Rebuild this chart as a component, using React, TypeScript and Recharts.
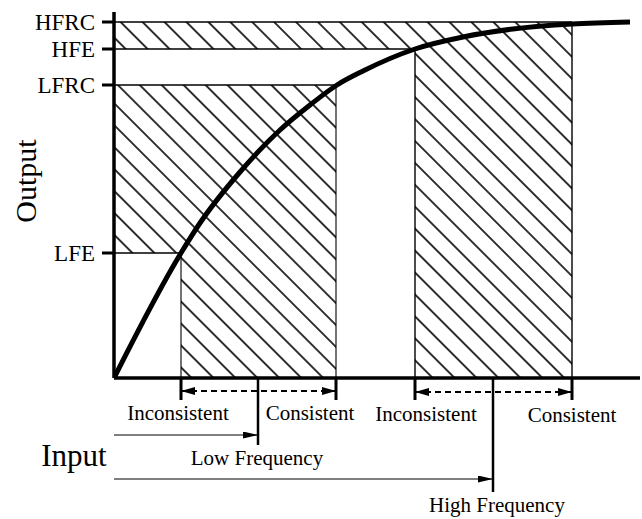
import React from 'react';
import { ComposedChart, Line, XAxis, YAxis, ReferenceArea, ReferenceLine, ReferenceDot } from 'recharts';

// response curve (input -> output)
const curveInput = [0, 67, 86, 126, 166, 196, 223, 249, 301, 349, 399, 458, 516];
const curveOutput = [0, 125, 155, 206, 248, 273, 293, 307, 329, 341, 349, 354, 356];

// output levels on the y axis
const levelNames = ['LFE', 'LFRC', 'HFE', 'HFRC'];
const levelValues = [125, 293, 329, 356];

// input bands: [inconsistent start, consistent end]
const lowBand = [67, 222];
const highBand = [301, 458];
const bandNames = ['Inconsistent', 'Consistent'];

const freqNames = ['Low Frequency', 'High Frequency'];
const freqValues = [144, 379];

const FONT = "'Liberation Serif', 'Times New Roman', serif";

const seg = (key: string, x1: number, y1: number, x2: number, y2: number, w: number, extra: any = {}) => (
  <ReferenceLine
    key={key}
    segment={[{ x: x1, y: y1 }, { x: x2, y: y2 }]}
    stroke="#000"
    strokeWidth={w}
    ifOverflow="visible"
    {...extra}
  />
);

const txt = (key: string, x: number, y: number, value: string, size: number, angle = 0) => (
  <ReferenceDot
    key={key}
    x={x}
    y={y}
    r={0}
    fill="none"
    stroke="none"
    ifOverflow="visible"
    label={{ value, position: 'center', fill: '#000', fontSize: size, fontFamily: FONT, angle }}
  />
);

const dashedArrow = (p: any) => (
  <line x1={p.x1} y1={p.y1} x2={p.x2} y2={p.y2} stroke="#000" strokeWidth={1.8} strokeDasharray="6 4"
    markerStart="url(#ahead)" markerEnd="url(#ahead)" />
);
const thinArrow = (p: any) => (
  <line x1={p.x1} y1={p.y1} x2={p.x2} y2={p.y2} stroke="#000" strokeWidth={1.1} markerEnd="url(#ahead2)" />
);

export default function App() {
  const data = curveInput.map((x, i) => ({ input: x, output: curveOutput[i] }));
  const [LFE, LFRC, HFE, HFRC] = levelValues;

  return (
    <div style={{ position: 'absolute', left: 0, top: 0, background: '#fff' }}>
      <ComposedChart width={642} height={519} data={data} margin={{ top: 12, right: 2, bottom: 0, left: 0 }}>
        <defs>
          <pattern id="hatch" width="15.5" height="15.5" patternUnits="userSpaceOnUse" patternTransform="rotate(-45)">
            <line x1="7.75" y1="-2" x2="7.75" y2="18" stroke="#000" strokeWidth="1.6" />
          </pattern>
          <marker id="ahead" viewBox="0 0 14 8" refX="14" refY="4" markerWidth="14" markerHeight="8"
            markerUnits="userSpaceOnUse" orient="auto-start-reverse">
            <path d="M0,0 L14,4 L0,8 z" fill="#000" />
          </marker>
          <marker id="ahead2" viewBox="0 0 15 7" refX="15" refY="3.5" markerWidth="15" markerHeight="7"
            markerUnits="userSpaceOnUse" orient="auto">
            <path d="M0,0 L15,3.5 L0,7 z" fill="#000" />
          </marker>
        </defs>
        <XAxis dataKey="input" type="number" domain={[0, 526]} hide allowDataOverflow />
        <YAxis
          type="number"
          width={114}
          domain={[-141, 366]}
          allowDataOverflow
          ticks={levelValues}
          interval={0}
          axisLine={false}
          tickSize={12}
          tickMargin={7}
          tickLine={{ stroke: '#000', strokeWidth: 3 }}
          tick={{ fill: '#000', fontSize: 23, fontFamily: FONT }}
          tickFormatter={(v: number) => levelNames[levelValues.indexOf(v)]}
        />

        {/* hatched regions */}
        <ReferenceArea x1={0} x2={lowBand[0]} y1={LFE} y2={LFRC} fill="url(#hatch)" fillOpacity={1} stroke="none" />
        <ReferenceArea x1={lowBand[0]} x2={lowBand[1]} y1={0} y2={LFRC} fill="url(#hatch)" fillOpacity={1} stroke="none" />
        <ReferenceArea x1={0} x2={highBand[0]} y1={HFE} y2={HFRC} fill="url(#hatch)" fillOpacity={1} stroke="none" />
        <ReferenceArea x1={highBand[0]} x2={highBand[1]} y1={0} y2={HFRC} fill="url(#hatch)" fillOpacity={1} stroke="none" />

        {/* region outlines */}
        {seg('lfrc', 0, LFRC, lowBand[1], LFRC, 1.4)}
        {seg('lfe', 0, LFE, lowBand[0], LFE, 1.4)}
        {seg('lowL', lowBand[0], 0, lowBand[0], LFE, 1.1)}
        {seg('lowR', lowBand[1], 0, lowBand[1], LFRC, 1.1)}
        {seg('hfrc', 0, HFRC, highBand[1], HFRC, 1.4)}
        {seg('hfe', 0, HFE, highBand[0], HFE, 1.4)}
        {seg('highL', highBand[0], 0, highBand[0], HFE, 1.4)}
        {seg('highR', highBand[1], 0, highBand[1], HFRC, 1.4)}

        {/* axes */}
        {seg('yaxis', 0, 0, 0, 366, 3.5)}
        {seg('xaxis', 0, 0, 526, 0, 3.5)}

        {/* band ticks and arrows below the axis */}
        {[...lowBand, ...highBand].map((x, i) => seg('bt' + i, x, 0, x, -22, 3))}
        {seg('lowArrow', lowBand[0], -13, lowBand[1], -13, 1.8, { shape: dashedArrow })}
        {seg('highArrow', highBand[0], -14, highBand[1], -14, 1.8, { shape: dashedArrow })}

        {/* frequency markers */}
        {seg('lfLine', freqValues[0], 0, freqValues[0], -67, 2.5)}
        {seg('hfLine', freqValues[1], 0, freqValues[1], -114, 2.5)}
        {seg('lfArrow', 0, -57, freqValues[0], -57, 1.1, { shape: thinArrow })}
        {seg('hfArrow', 0, -101, freqValues[1], -101, 1.1, { shape: thinArrow })}

        <Line dataKey="output" type="monotone" stroke="#000" strokeWidth={5} dot={false} isAnimationActive={false} />

        {/* text */}
        {txt('t1', lowBand[0] - 3, -35, bandNames[0], 21)}
        {txt('t2', lowBand[1] - 26, -35, bandNames[1], 21)}
        {txt('t3', highBand[0] + 11, -35.5, bandNames[0], 21)}
        {txt('t4', highBand[1], -37, bandNames[1], 21)}
        {txt('t5', freqValues[0] - 1, -79.5, freqNames[0], 21)}
        {txt('t6', freqValues[1] + 4, -126.5, freqNames[1], 21)}
        {txt('t7', -40, -76.5, 'Input', 31)}
        {txt('t8', -89, 197, 'Output', 30, -90)}
      </ComposedChart>
    </div>
  );
}
